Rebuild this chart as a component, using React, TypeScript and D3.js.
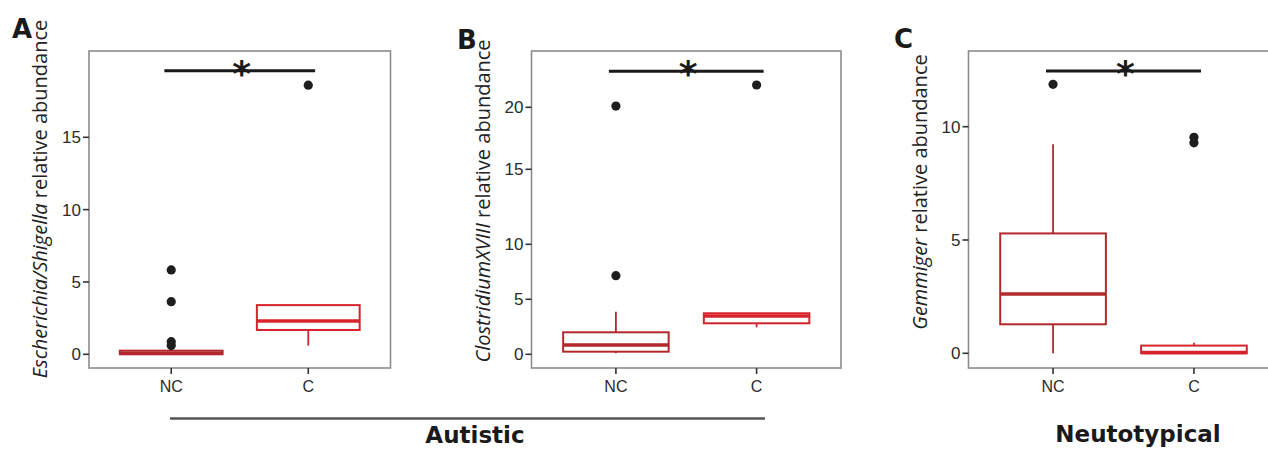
import React from 'react';
import * as d3 from 'd3';

// groups on the x axis
const groups = ['NC', 'C'];

// box statistics per panel: [lower whisker, q1, median, q3, upper whisker]
const statsA = [[0.0, 0.0, 0.08, 0.25, 0.3], [0.6, 1.68, 2.3, 3.4, 3.4]];
const statsB = [[0.1, 0.24, 0.85, 2.0, 3.87], [2.45, 2.82, 3.48, 3.73, 3.73]];
const statsC = [[0.0, 1.28, 2.62, 5.29, 9.23], [0.0, 0.0, 0.03, 0.34, 0.47]];

// outliers per group
const outliersA = [[5.83, 3.64, 0.87, 0.6], [18.6]];
const outliersB = [[7.15, 20.1], [21.8]];
const outliersC = [[11.87], [9.53, 9.29]];

// y tick values
const ticksA = [0, 5, 10, 15];
const ticksB = [0, 5, 10, 15, 20];
const ticksC = [0, 5, 10];

// height of the significance bar
const sigA = 19.6;
const sigB = 22.9;
const sigC = 12.46;

const taxa = ['Escherichia/Shigella', 'ClostridiumXVIII', 'Gemmiger'];
const letters = ['A', 'B', 'C'];

const NC_COL = '#b3282d';
const C_COL = '#d7242c';
const TICK_FONT = '"Liberation Sans", Arial, sans-serif';
const LABEL_FONT = '"Open Sans", "DejaVu Sans", sans-serif';

type Panel = {
  left: number; right: number; top: number; bottom: number;
  y: d3.ScaleLinear<number, number>;
  stats: number[][]; outliers: number[][]; ticks: number[]; sig: number;
  taxon: string; letter: string; letterX: number; letterY: number;
  labelX: number; labelY: number;
};

function BoxPanel({ p }: { p: Panel }) {
  const x = d3.scalePoint<string>().domain(groups).range([p.left, p.right]).padding(0.6);
  const step = x.step();
  const bw = step * 0.75;
  const y = p.y;
  const mid = ((x('NC') as number) + (x('C') as number)) / 2;
  return (
    <g>
      <rect x={p.left} y={p.top} width={p.right - p.left} height={p.bottom - p.top}
        fill="none" stroke="#8c8c8c" strokeWidth={1.6} />
      {/* y axis */}
      {p.ticks.map((t) => (
        <g key={t}>
          <line x1={p.left - 6} x2={p.left} y1={y(t)} y2={y(t)} stroke="#333" strokeWidth={1.6} />
          <text x={p.left - 8} y={y(t)} dy="0.36em" textAnchor="end" fontFamily={TICK_FONT}
            fontSize={17} fill="#2b2b2b">{t}</text>
        </g>
      ))}
      {/* x axis */}
      {groups.map((g) => (
        <g key={g}>
          <line x1={x(g)} x2={x(g)} y1={p.bottom} y2={p.bottom + 6} stroke="#333" strokeWidth={1.6} />
          <text x={x(g)} y={p.bottom + 24} textAnchor="middle" fontFamily={TICK_FONT}
            fontSize={16} fill="#2b2b2b">{g}</text>
        </g>
      ))}
      {/* boxes */}
      {groups.map((g, i) => {
        const [lo, q1, med, q3, hi] = p.stats[i];
        const cx = x(g) as number;
        const col = i === 0 ? NC_COL : C_COL;
        return (
          <g key={g}>
            <line x1={cx} x2={cx} y1={y(hi)} y2={y(q3)} stroke={col} strokeWidth={1.8} />
            <line x1={cx} x2={cx} y1={y(q1)} y2={y(lo)} stroke={col} strokeWidth={1.8} />
            <rect x={cx - bw / 2} y={y(q3)} width={bw} height={Math.max(0.1, y(q1) - y(q3))}
              fill="#fff" stroke={col} strokeWidth={2} />
            <line x1={cx - bw / 2} x2={cx + bw / 2} y1={y(med)} y2={y(med)} stroke={col} strokeWidth={3.5} />
            {p.outliers[i].map((v, j) => (
              <circle key={j} cx={cx} cy={y(v)} r={4.6} fill="#1e1e1e" />
            ))}
          </g>
        );
      })}
      {/* significance */}
      <line x1={(x('NC') as number) - step * 0.05} x2={(x('C') as number) + step * 0.05}
        y1={y(p.sig)} y2={y(p.sig)} stroke="#1a1a1a" strokeWidth={3} />
      <text x={mid + 2} y={y(p.sig) + 15} textAnchor="middle" fontFamily='"DejaVu Sans", sans-serif'
        fontWeight="bold" fontSize={36} fill="#1a1a1a">*</text>
      {/* y label */}
      <text transform={`translate(${p.labelX},${p.labelY}) rotate(-90)`} textAnchor="middle"
        fontFamily={LABEL_FONT} fontSize={20} fill="#222">
        <tspan fontStyle="italic">{p.taxon}</tspan> relative abundance
      </text>
      <text x={p.letterX} y={p.letterY} fontFamily='"DejaVu Sans", Arial, sans-serif'
        fontWeight="bold" fontSize={26} fill="#1a1a1a">{p.letter}</text>
    </g>
  );
}

export default function App() {
  // panel A and C are linear; panel B's printed axis is uneven, so it is piecewise
  const yA = d3.scaleLinear().domain([0, 15]).range([354.3, 137.3]);
  const yB = d3.scaleLinear().domain([0, 5, 10, 15, 20]).range([354.3, 299.3, 244.3, 169.3, 107.3]);
  const yC = d3.scaleLinear().domain([0, 10]).range([353.3, 126.7]);

  const panels: Panel[] = [
    { left: 89, right: 390.5, top: 51, bottom: 368, y: yA, stats: statsA, outliers: outliersA,
      ticks: ticksA, sig: sigA, taxon: taxa[0], letter: letters[0], letterX: 12, letterY: 38,
      labelX: 47, labelY: 199 },
    { left: 531.5, right: 841, top: 51, bottom: 368, y: yB, stats: statsB, outliers: outliersB,
      ticks: ticksB, sig: sigB, taxon: taxa[1], letter: letters[1], letterX: 457, letterY: 49,
      labelX: 490, labelY: 201 },
    { left: 968.5, right: 1278.5, top: 51, bottom: 368, y: yC, stats: statsC, outliers: outliersC,
      ticks: ticksC, sig: sigC, taxon: taxa[2], letter: letters[2], letterX: 894, letterY: 48,
      labelX: 927, labelY: 192 },
  ];

  return (
    <svg width={1268} height={450} style={{ position: 'absolute', left: 0, top: 0, background: '#fff' }}>
      {panels.map((p) => <BoxPanel key={p.letter} p={p} />)}
      <line x1={170} x2={765} y1={418.5} y2={418.5} stroke="#555" strokeWidth={2.5} />
      <text x={475} y={443} textAnchor="middle" fontFamily='"DejaVu Sans", sans-serif'
        fontWeight="bold" fontSize={23} fill="#1a1a1a">Autistic</text>
      <text x={1138} y={442} textAnchor="middle" fontFamily='"DejaVu Sans", sans-serif'
        fontWeight="bold" fontSize={23} fill="#1a1a1a">Neutotypical</text>
    </svg>
  );
}
